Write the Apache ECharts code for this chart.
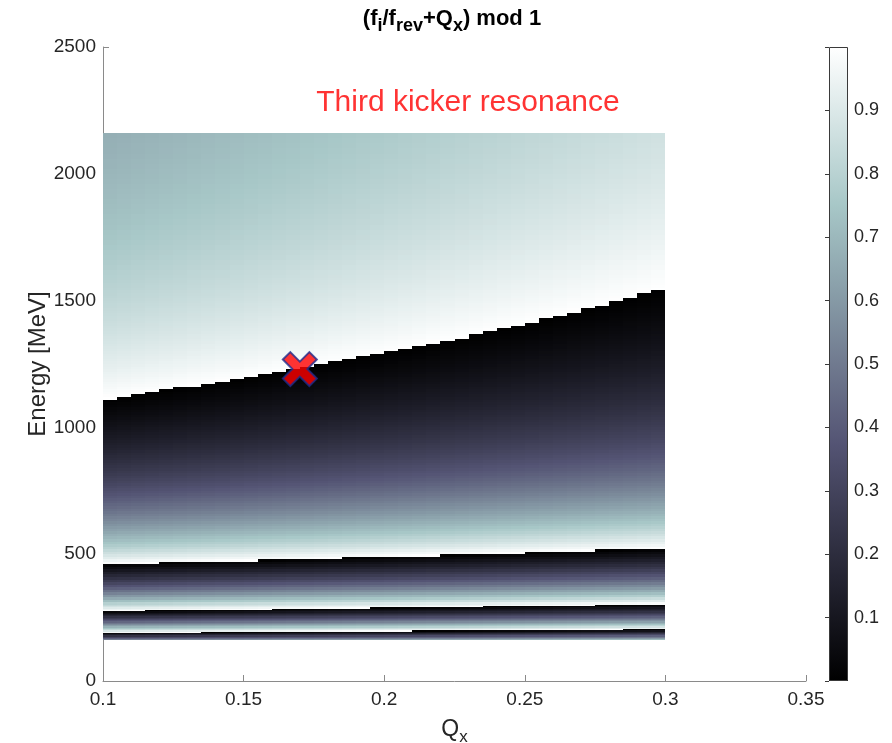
<!DOCTYPE html>
<html lang="en">
<head>
    <meta charset="UTF-8">
    <title>(fi/frev+Qx) mod 1</title>
    <script src="https://cdn.jsdelivr.net/npm/echarts@6/dist/echarts.min.js"></script>
    <style>html,body{margin:0;padding:0;background:#fff;}</style>
</head>
<body>
<div id="dom" style="width: 892px;height: 743px"></div>
<script>
// column edges along Qx (pcolor cells, 0.005 wide)
var qxEdges = [0.1, 0.105, 0.11, 0.115, 0.12, 0.125, 0.13, 0.135, 0.14, 0.145,
    0.15, 0.155, 0.16, 0.165, 0.17, 0.175, 0.18, 0.185, 0.19, 0.195,
    0.2, 0.205, 0.21, 0.215, 0.22, 0.225, 0.23, 0.235, 0.24, 0.245,
    0.25, 0.255, 0.26, 0.265, 0.27, 0.275, 0.28, 0.285, 0.29, 0.295, 0.3];

// row edges along energy [MeV]
var energyEdges = [160, 165, 170, 175, 180, 185, 190, 195, 200, 205,
    210, 215, 220, 225, 230, 235, 240, 245, 250, 255,
    260, 265, 270, 275, 280, 285, 290, 295,
    300, 310, 320, 330, 340, 350, 360, 370, 380, 390,
    400, 410, 420, 430, 440, 450, 460, 470, 480, 490,
    500, 510, 520, 530, 540, 550, 560, 570, 580, 590,
    600, 610, 620, 630, 640, 650, 660, 670, 680, 690,
    700, 710, 720, 730, 740, 750, 760, 770, 780, 790,
    800, 810, 820, 830, 840, 850, 860, 870, 880, 890,
    900, 910, 920, 930, 940, 950, 960, 970, 980, 990,
    1000, 1010, 1020, 1030, 1040, 1050, 1060, 1070, 1080, 1090,
    1100, 1110, 1120, 1130, 1140, 1150, 1160, 1170, 1180, 1190,
    1200, 1210, 1220, 1230, 1240, 1250, 1260, 1270, 1280, 1290,
    1300, 1310, 1320, 1330, 1340, 1350, 1360, 1370, 1380, 1390,
    1400, 1410, 1420, 1430, 1440, 1450, 1460, 1470, 1480, 1490,
    1500, 1510, 1520, 1530, 1540, 1550, 1560, 1570, 1580, 1590,
    1600, 1620, 1640, 1660, 1680, 1700, 1720, 1740, 1760, 1780,
    1800, 1820, 1840, 1860, 1880, 1900, 1920, 1940, 1960, 1980,
    2000, 2020, 2040, 2060, 2080, 2100, 2120, 2140, 2160];

// colour value of the left column (Qx = 0.1) for each energy row
var leftColumnValue = [0.511, 0.410, 0.313, 0.221, 0.133, 0.049, 0.968, 0.891, 0.818, 0.747,
    0.679, 0.613, 0.551, 0.490, 0.431, 0.375, 0.321, 0.268, 0.218, 0.168,
    0.121, 0.075, 0.030, 0.987, 0.945, 0.905, 0.865, 0.827,
    0.790, 0.719, 0.651, 0.587, 0.526, 0.469, 0.414, 0.362, 0.312, 0.264,
    0.219, 0.175, 0.133, 0.093, 0.055, 0.018, 0.983, 0.949, 0.916, 0.884,
    0.854, 0.825, 0.796, 0.769, 0.742, 0.717, 0.692, 0.668, 0.645, 0.623,
    0.601, 0.580, 0.560, 0.540, 0.521, 0.502, 0.484, 0.466, 0.449, 0.433,
    0.416, 0.401, 0.385, 0.370, 0.356, 0.342, 0.328, 0.314, 0.301, 0.288,
    0.276, 0.264, 0.252, 0.240, 0.229, 0.218, 0.207, 0.196, 0.186, 0.176,
    0.166, 0.156, 0.147, 0.138, 0.128, 0.120, 0.111, 0.102, 0.094, 0.086,
    0.078, 0.070, 0.062, 0.055, 0.047, 0.040, 0.033, 0.026, 0.019, 0.012,
    0.006, 0.999, 0.993, 0.987, 0.981, 0.975, 0.969, 0.963, 0.957, 0.952,
    0.946, 0.941, 0.935, 0.930, 0.925, 0.920, 0.915, 0.910, 0.905, 0.901,
    0.896, 0.891, 0.887, 0.882, 0.878, 0.874, 0.870, 0.865, 0.861, 0.857,
    0.853, 0.849, 0.845, 0.842, 0.838, 0.834, 0.831, 0.827, 0.824, 0.820,
    0.817, 0.813, 0.810, 0.807, 0.803, 0.800, 0.797, 0.794, 0.791, 0.788,
    0.785, 0.779, 0.774, 0.768, 0.763, 0.757, 0.752, 0.747, 0.743, 0.738,
    0.733, 0.729, 0.724, 0.720, 0.716, 0.712, 0.708, 0.704, 0.700, 0.696,
    0.693, 0.689, 0.686, 0.682, 0.679, 0.676, 0.673, 0.670];

var markerPoint = [0.17, 1230];
var notePoint = [0.2298, 2279];
var noteText = 'Third kicker resonance';

// MATLAB "bone" colormap, stops every 1/8
var boneColors = ['#000000', '#1c1c27', '#38384d', '#545474', '#707a8f',
    '#8ba1ab', '#a7c7c7', '#d3e3e3', '#ffffff'];

var FONT = 'Liberation Sans, Arial, sans-serif';
var TXT = '#262626';
var AX = '#8a8a8a';

function buildCells() {
    var cells = [];
    for (var r = 0; r < leftColumnValue.length; r++) {
        for (var c = 0; c < qxEdges.length - 1; c++) {
            // (fi/frev + Qx) mod 1 : shift the left column by the Qx step
            var v = (leftColumnValue[r] + qxEdges[c] - qxEdges[0]) % 1;
            cells.push([qxEdges[c], qxEdges[c + 1], energyEdges[r], energyEdges[r + 1], v]);
        }
    }
    return cells;
}

function renderCell(params, api) {
    var a = api.coord([api.value(0), api.value(3)]);
    var b = api.coord([api.value(1), api.value(2)]);
    var x0 = Math.round(a[0]), y0 = Math.round(a[1]);
    var x1 = Math.round(b[0]), y1 = Math.round(b[1]);
    return {
        type: 'rect',
        shape: {x: x0, y: y0, width: x1 - x0, height: y1 - y0},
        style: {fill: api.visual('color')}
    };
}

function renderColorbar(params, api) {
    var a = api.coord([0, 1]);
    var b = api.coord([1, 0]);
    var stops = boneColors.map(function (c, i) {
        return {offset: i / (boneColors.length - 1), color: c};
    });
    var x0 = Math.round(a[0]), y0 = Math.round(a[1]);
    var w = Math.round(b[0]) - x0, h = Math.round(b[1]) - y0;
    return {
        type: 'group',
        children: [{
            type: 'rect',
            shape: {x: x0, y: y0, width: w, height: h},
            style: {fill: new echarts.graphic.LinearGradient(0, 1, 0, 0, stops)}
        }, {
            type: 'rect',
            shape: {x: x0 + 0.5, y: y0 + 0.5, width: w - 1, height: h - 1},
            style: {fill: null, stroke: '#3a3a3a', lineWidth: 1}
        }]
    };
}

var dom = document.getElementById("dom");
var myCharts = echarts.init(dom);
var option = {
    animation: false,
    backgroundColor: '#ffffff',
    graphic: [{
        type: 'text',
        x: 452,
        y: 19,
        style: {
            text: '{a|(f}{b|i}{a|/f}{b|rev}{a|+Q}{b|x}{a|) mod 1}',
            align: 'center',
            verticalAlign: 'middle',
            rich: {
                a: {fontSize: 22, fontWeight: 'bold', fontFamily: FONT, color: '#000', lineHeight: 32},
                b: {fontSize: 18, fontWeight: 'bold', fontFamily: FONT, color: '#000', lineHeight: 32, verticalAlign: 'bottom'}
            }
        }
    }],
    grid: [
        {left: 103, top: 47, width: 703, height: 634, outerBoundsMode: 'none', containLabel: false},
        {left: 829, top: 47, width: 19, height: 634, outerBoundsMode: 'none', containLabel: false}
    ],
    xAxis: [{
        type: 'value',
        min: 0.1,
        max: 0.35,
        interval: 0.05,
        name: '{a|Q}{b|x}',
        nameLocation: 'middle',
        nameGap: 33,
        nameMoveOverlap: false,
        nameTextStyle: {
            rich: {
                a: {fontSize: 23, fontFamily: FONT, color: TXT, lineHeight: 32},
                b: {fontSize: 17, fontFamily: FONT, color: TXT, lineHeight: 32, verticalAlign: 'bottom'}
            }
        },
        axisLine: {lineStyle: {color: AX, width: 1}},
        axisTick: {inside: true, length: 6, lineStyle: {color: AX}},
        axisLabel: {fontSize: 19, fontFamily: FONT, color: TXT, margin: 9},
        splitLine: {show: false}
    }, {
        gridIndex: 1, type: 'value', min: 0, max: 1, show: false
    }],
    yAxis: [{
        type: 'value',
        min: 0,
        max: 2500,
        interval: 500,
        name: 'Energy [MeV]',
        nameLocation: 'middle',
        nameGap: 53,
        nameMoveOverlap: false,
        nameTextStyle: {fontSize: 24, fontFamily: FONT, color: TXT},
        axisLine: {show: true, lineStyle: {color: AX, width: 1}},
        axisTick: {show: true, inside: true, length: 6, lineStyle: {color: AX}},
        axisLabel: {
            fontSize: 19, fontFamily: FONT, color: TXT, margin: 7,
            formatter: function (v) { return String(v); }
        },
        splitLine: {show: false}
    }, {
        gridIndex: 1,
        type: 'value',
        min: 0,
        max: 1,
        interval: 0.1,
        position: 'right',
        axisLine: {show: false},
        axisTick: {show: true, inside: true, length: 4, lineStyle: {color: '#3a3a3a'}},
        axisLabel: {
            fontSize: 18, fontFamily: FONT, color: TXT, margin: 6,
            formatter: function (v) { return (v > 0.05 && v < 0.95) ? v.toFixed(1) : ''; }
        },
        splitLine: {show: false}
    }],
    visualMap: {
        type: 'continuous',
        show: false,
        min: 0,
        max: 1,
        dimension: 4,
        seriesIndex: 0,
        inRange: {color: boneColors}
    },
    series: [{
        type: 'custom',
        name: 'map',
        renderItem: renderCell,
        encode: {x: [0, 1], y: [2, 3]},
        data: buildCells(),
        z: 2
    }, {
        type: 'custom',
        name: 'colorbar',
        xAxisIndex: 1,
        yAxisIndex: 1,
        renderItem: renderColorbar,
        encode: {x: [0, 1], y: [2, 3]},
        data: [[0, 1, 0, 1]],
        silent: true
    }, {
        type: 'scatter',
        name: 'note',
        data: [notePoint],
        symbolSize: 1,
        itemStyle: {color: 'rgba(0,0,0,0)'},
        label: {
            show: true,
            position: 'inside',
            formatter: noteText,
            color: '#ff0000',
            fontSize: 30,
            fontFamily: FONT
        },
        z: 6
    }, {
        type: 'scatter',
        name: 'working point',
        data: [markerPoint],
        symbol: 'path://M0,22L22,0L50,28L78,0L100,22L72,50L100,78L78,100L50,72L22,100L0,78L28,50Z',
        symbolSize: 34,
        itemStyle: {color: '#ff0000', borderColor: '#1f2d8c', borderWidth: 2},
        z: 6
    }]
};
myCharts.setOption(option);
</script>
</body>
</html>
